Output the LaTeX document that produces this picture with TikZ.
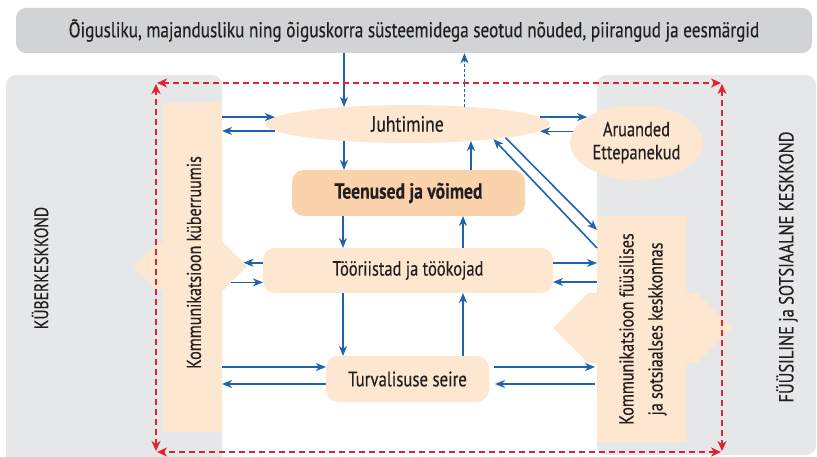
\documentclass[tikz,border=0pt]{standalone}
\usepackage{fontspec}
\setmainfont{PT Sans}[FakeStretch=0.80, FakeBold=0.35]
\usetikzlibrary{arrows.meta,shapes.geometric,shapes.symbols,calc}
\definecolor{panelgray}{HTML}{E6E7E8}
\definecolor{topgray}{HTML}{D1D3D4}
\definecolor{peach}{HTML}{FDE7D1}
\definecolor{peachdark}{HTML}{FAD2AC}
\definecolor{myblue}{HTML}{1F63AD}
\definecolor{myred}{HTML}{E2222E}
\definecolor{txt}{HTML}{231F20}
\tikzset{
  arr/.style={draw=myblue, line width=1.6pt, -{Stealth[length=10pt,width=8pt,inset=3pt]}},
  dotarr/.style={arr, dash pattern=on 2.5pt off 2.5pt},
  reddash/.style={draw=myred, line width=2pt, dash pattern=on 6pt off 4pt,
    {Stealth[length=10pt,width=9pt,inset=3pt]}-{Stealth[length=10pt,width=9pt,inset=3pt]}, shorten <=1pt, shorten >=1pt},
  boxrr/.style={fill=peach, rounded corners=12pt, inner sep=0pt, outer sep=0pt, text=txt},
  lbl/.style={text=txt, inner sep=0pt},
}
\newcommand{\fsz}[2]{\fontsize{#1}{#2}\selectfont}
\begin{document}
\begin{tikzpicture}[x=1pt,y=-1pt]
\useasboundingbox (0,0) rectangle (817,457);
\clip (0,0) rectangle (817,457);
% background panels
\fill[panelgray, rounded corners=10pt] (6,75) rectangle (222,470);
\fill[panelgray, rounded corners=10pt] (597,75) rectangle (816,455);
% top box
\node[fill=topgray, rounded corners=10pt, minimum width=796, minimum height=45, inner sep=0pt, text=txt,
  font=\fsz{21.5}{24}] (top) at (414,30.5)
  {Õigusliku, majandusliku ning õiguskorra süsteemidega seotud nõuded, piirangud ja eesmärgid};
% side labels
\node[lbl, rotate=90, font=\fsz{19.5}{22}] (kyb) at (40,268) {KÜBERKESKKOND};
\node[lbl, rotate=90, font=\fsz{20.5}{22}] (fyy) at (787,267) {FÜÜSILINE ja SOTSIAALNE KESKKOND};
% communication bars
\node[signal, signal to=east and west, signal pointer angle=90, fill=peach, minimum width=114, minimum height=47, inner sep=0pt] (hexL) at (190,266.5) {};
\node[fill=peach, minimum width=59, minimum height=329, inner sep=0pt, outer sep=0pt] (lbar) at (192.5,267.5) {};
\node[lbl, rotate=90, font=\fsz{20}{22}] (lbartxt) at (194,262.5) {Kommunikatsioon küberruumis};
\node[signal, signal to=east and west, signal pointer angle=90, fill=peach, minimum width=179, minimum height=70, inner sep=0pt] (hexR) at (642.5,328) {};
\node[fill=peach, minimum width=90, minimum height=226, inner sep=0pt, outer sep=0pt] (rbar) at (642,329) {};
\node[lbl, rotate=90, align=center, font=\fsz{20}{29}] (rbartxt) at (643,329) {Kommunikatsioon füüsilises\\ja sotsiaalses keskkonnas};
% central nodes
\node[ellipse, fill=peach, minimum width=285, minimum height=38, inner sep=0pt, outer sep=0pt, text=txt,
  font=\fsz{22}{24}] (jh) at (407.5,124) {Juhtimine};
\node[ellipse, fill=peach, minimum width=133, minimum height=75, inner sep=0pt, outer sep=0pt, text=txt, align=center,
  font=\fsz{20.5}{23}] (ar) at (636.5,142.5) {Aruanded\\Ettepanekud};
\node[boxrr, fill=peachdark, minimum width=233, minimum height=46, font=\fsz{22}{24}\bfseries] (ten) at (408.5,193) {Teenused ja võimed};
\node[boxrr, minimum width=290, minimum height=45, font=\fsz{20.5}{24}] (tool) at (408,270.5) {Tööriistad ja töökojad};
\node[boxrr, minimum width=163, minimum height=46, font=\fsz{21}{24}] (turv) at (407.5,379) {Turvalisuse seire};
% helper coordinates
\coordinate (cl) at (343,0);
\coordinate (cr) at (463,0);
\coordinate (tvA) at ([yshift=12pt]turv.west);
\coordinate (tvB) at ([yshift=-5pt]turv.west);
\coordinate (tvAe) at ([yshift=12pt]turv.east);
\coordinate (tvBe) at ([yshift=-5pt]turv.east);
\coordinate (toA) at ([yshift=7.5pt]tool.east);
\coordinate (toB) at ([yshift=-11.5pt]tool.east);
\coordinate (rbA) at ([yshift=99pt]rbar.west);
\coordinate (rbB) at ([yshift=81pt]rbar.west);
% vertical arrows
\draw[arr] (top.south -| jh.165) -- (jh.165);
\draw[dotarr] (jh.17) -- (jh.17 |- top.south);
\draw[arr] (jh.195) -- (jh.195 |- ten.north);
\draw[arr] (ten.north -| jh.345) -- (jh.345);
\draw[arr] (ten.south -| cl) -- (tool.north -| cl);
\draw[arr] (tool.north -| cr) -- (ten.south -| cr);
\draw[arr] (tool.south -| cl) -- (turv.north -| cl);
\draw[arr] (turv.north -| cr) -- (tool.south -| cr);
% left bar arrows
\draw[arr] (lbar.east |- jh.177) -- (jh.177);
\draw[arr] (jh.183) -- (lbar.east |- jh.183);
\draw[arr] (hexL.4 -| tool.west) -- (hexL.4);
\draw[arr] (hexL.339) -- (hexL.339 -| tool.west);
\draw[arr] (lbar.east |- tvA) -- (tvA);
\draw[arr] (tvB) -- (lbar.east |- tvB);
% right side arrows
\draw[arr] (jh.3) -- (jh.3 -| ar.153);
\draw[arr] (ar.170) -- (ar.170 -| jh.357);
\draw[arr] (jh.352) -- (rbA);
\draw[arr] (rbB) -- (jh.350);
\draw[arr] (toA) -- (rbar.west |- toA);
\draw[arr] (rbar.west |- toB) -- (toB);
\draw[arr, shorten <=5pt, shorten >=2pt] (tvAe) -- (rbar.west |- tvAe);
\draw[arr, shorten <=2pt, shorten >=6pt] (rbar.west |- tvBe) -- (tvBe);
% red dashed frame
\coordinate (r1) at (156,83);
\coordinate (r2) at (722,83);
\coordinate (r3) at (722,452);
\coordinate (r4) at (156,452);
\draw[reddash] (r1) -- (r2);
\draw[reddash] (r2) -- (r3);
\draw[reddash] (r3) -- (r4);
\draw[reddash] (r4) -- (r1);
\end{tikzpicture}
\end{document}
